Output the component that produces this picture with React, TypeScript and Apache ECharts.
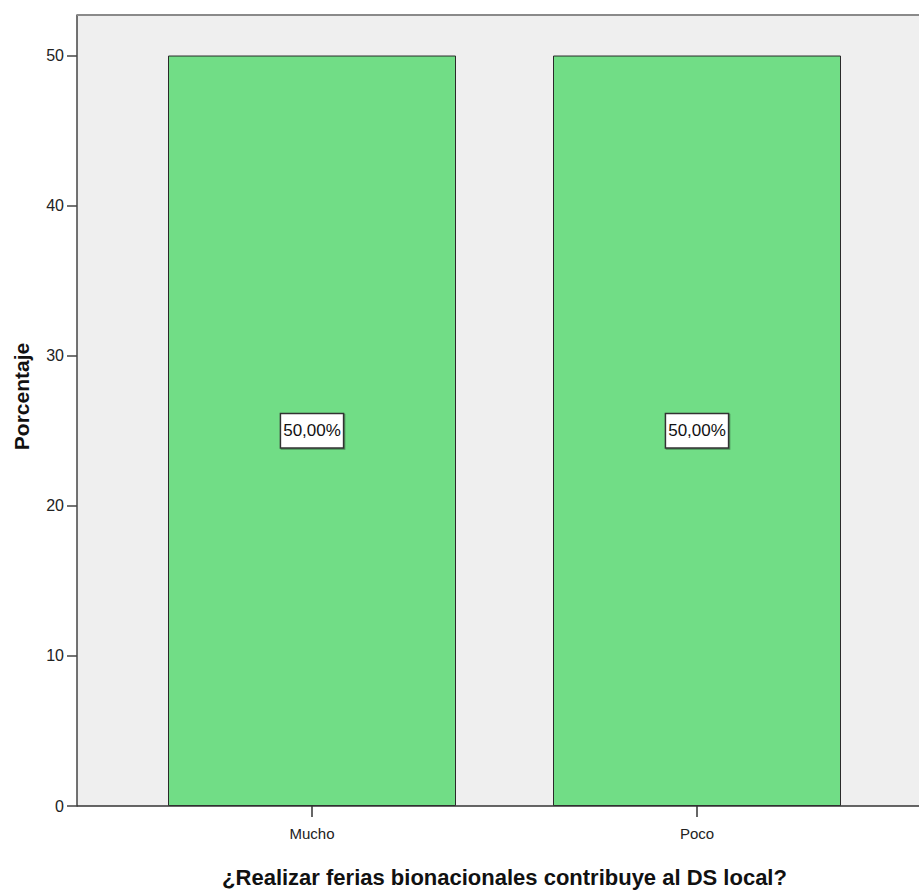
import React, { useEffect, useRef } from "react";
import * as echarts from "echarts";

const categories = ["Mucho", "Poco"];
const percentages = [50, 50];
const labelTexts = ["50,00%", "50,00%"];
const yTicks = [0, 10, 20, 30, 40, 50];

const FONT = "'Liberation Sans Narrow', 'Arial Narrow', 'Liberation Sans', Arial, sans-serif";

export default function App() {
  const ref = useRef<HTMLDivElement>(null);
  useEffect(() => {
    document.body.style.margin = "0";
    const chart = echarts.init(ref.current!, null, { renderer: "svg" });
    const plotL = 77, plotR = 919, plotT = 15, plotB = 806;
    const gridL = 119.5, gridW = 770;
    chart.setOption({
      animation: false,
      backgroundColor: "#ffffff",
      grid: {
        left: gridL,
        width: gridW,
        top: plotT,
        height: plotB - plotT,
        containLabel: false,
        outerBoundsMode: "none",
      },
      graphic: [
        {
          type: "rect",
          z: -10,
          silent: true,
          shape: { x: plotL, y: plotT, width: plotR - plotL, height: plotB - plotT },
          style: { fill: "#EFEFEF" },
        },
        {
          type: "line",
          z: 5,
          silent: true,
          shape: { x1: plotL, y1: plotT, x2: plotR, y2: plotT },
          style: { stroke: "#8a8a8a", lineWidth: 2 },
        },
        {
          type: "line",
          z: 5,
          silent: true,
          shape: { x1: plotL, y1: plotB, x2: plotR, y2: plotB },
          style: { stroke: "#333333", lineWidth: 1.5 },
        },
      ],
      xAxis: {
        type: "category",
        data: categories,
        axisLine: { show: false },
        axisTick: { show: true, alignWithLabel: true, length: 11, lineStyle: { color: "#333", width: 1.5 } },
        axisLabel: { color: "#222", fontSize: 15, fontFamily: FONT, margin: 20 },
        name: "¿Realizar ferias bionacionales contribuye al DS local?",
        nameLocation: "middle",
        nameGap: 60,
        nameTextStyle: { color: "#111", fontSize: 22, fontWeight: "bold", fontFamily: FONT },
      },
      yAxis: {
        type: "value",
        min: 0,
        max: 52.7,
        interval: 10,
        offset: gridL - plotL,
        splitLine: { show: false },
        axisLine: { show: true, lineStyle: { color: "#444", width: 1.5 } },
        axisTick: { show: true, length: 10, lineStyle: { color: "#444", width: 1.5 } },
        axisLabel: {
          color: "#222",
          fontSize: 16,
          fontFamily: FONT,
          margin: 13,
          showMaxLabel: false,
          formatter: (v: number) => (yTicks.includes(v) ? String(v) : ""),
        },
        name: "Porcentaje",
        nameLocation: "middle",
        nameGap: 45,
        nameTextStyle: {
          color: "#111",
          fontSize: 21,
          fontWeight: "bold",
          fontFamily: "'Liberation Sans', Arial, sans-serif",
          padding: [0, 0, 0, 28],
        },
      },
      series: [
        {
          type: "bar",
          data: percentages,
          barWidth: 288,
          itemStyle: { color: "#71DD86", borderColor: "#2a2a2a", borderWidth: 1 },
          label: {
            show: true,
            position: "inside",
            formatter: (p: any) => labelTexts[p.dataIndex],
            color: "#111",
            fontSize: 17,
            fontFamily: FONT,
            lineHeight: 26,
            backgroundColor: "#ffffff",
            borderColor: "#333",
            borderWidth: 1.5,
            padding: [4, 2, 3, 2],
            shadowColor: "rgba(0,0,0,0.35)",
            shadowOffsetX: 1,
            shadowOffsetY: 1,
          },
        },
      ],
    });
    return () => chart.dispose();
  }, []);
  return <div ref={ref} style={{ width: 919, height: 893, position: "fixed", left: 0, top: 0 }} />;
}
